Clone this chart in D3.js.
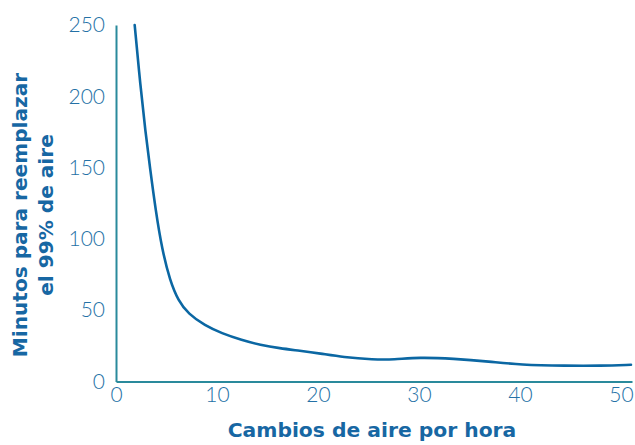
<!DOCTYPE html>
<html>
<head>
<meta charset="utf-8">
<script src="https://cdn.jsdelivr.net/npm/d3@7"></script>
<style>
  body { margin: 0; background: #fff; }
  .axis text { font-family: Lato, "Open Sans", sans-serif; font-weight: 300; font-size: 21px; fill: #2471a6; }
  .axis path { stroke: #2a8a9c; stroke-width: 2; }
  .title { font-family: "DejaVu Sans", sans-serif; font-weight: bold; fill: #1767a3; }
</style>
</head>
<body>
<svg class="chart"></svg>
<script>
// cambios de aire por hora vs minutos
var ach = [1.85, 2.42, 2.9, 3.4, 3.93, 4.55, 5.35, 6.17, 7.16, 8.81, 10.46, 12.45, 14.3, 16.2, 18.2, 20.2, 22.5, 25.5, 27.5, 30, 33.4, 37, 40, 44.6, 48, 51];
var minutes = [250, 207, 176, 148, 120, 93, 70.6, 56.7, 47.4, 39.2, 33.8, 29, 25.6, 23.3, 21.6, 19.7, 17, 15.3, 15.3, 17, 16, 14, 11.7, 11, 11, 11.7];
var xTicks = [0, 10, 20, 30, 40, 50];
var yTicks = [0, 50, 100, 150, 200, 250];

var W = 635, H = 445;
var margin = {top: 25, right: 3, bottom: 64, left: 116};

var svg = d3.select(".chart")
    .attr("width", W)
    .attr("height", H);

var x = d3.scaleLinear()
    .domain([0, 51.1])
    .range([margin.left, W - margin.right]);

var y = d3.scaleLinear()
    .domain([0, 250])
    .range([H - margin.bottom + 0.5, margin.top]);

var xAxis = d3.axisBottom(x)
    .tickValues(xTicks)
    .tickSize(0)
    .tickPadding(6);

var yAxis = d3.axisLeft(y)
    .tickValues(yTicks)
    .tickSize(0)
    .tickPadding(11);

svg.append("g")
    .attr("class", "x axis")
    .attr("transform", "translate(0," + y(0) + ")")
    .call(xAxis);

svg.append("g")
    .attr("class", "y axis")
    .attr("transform", "translate(" + x(0) + ",0)")
    .call(yAxis);

var line = d3.line()
    .x(function(d, i) { return x(ach[i]); })
    .y(function(d) { return y(d); })
    .curve(d3.curveBasis);

svg.append("path")
    .datum(minutes)
    .attr("fill", "none")
    .attr("stroke", "#0b67a3")
    .attr("stroke-width", 2.6)
    .attr("stroke-linecap", "round")
    .attr("d", line);

// titulos
svg.append("text")
    .attr("class", "title")
    .attr("x", 372)
    .attr("y", 437)
    .attr("text-anchor", "middle")
    .style("font-size", "20.3px")
    .text("Cambios de aire por hora");

var yt = svg.append("text")
    .attr("class", "title")
    .attr("transform", "translate(0,215) rotate(-90)")
    .attr("text-anchor", "middle")
    .style("font-size", "20.1px");
yt.append("tspan").attr("x", 0).attr("y", 27).text("Minutos para reemplazar");
yt.append("tspan").attr("x", 0).attr("y", 53).text("el 99% de aire");
</script>
</body>
</html>
